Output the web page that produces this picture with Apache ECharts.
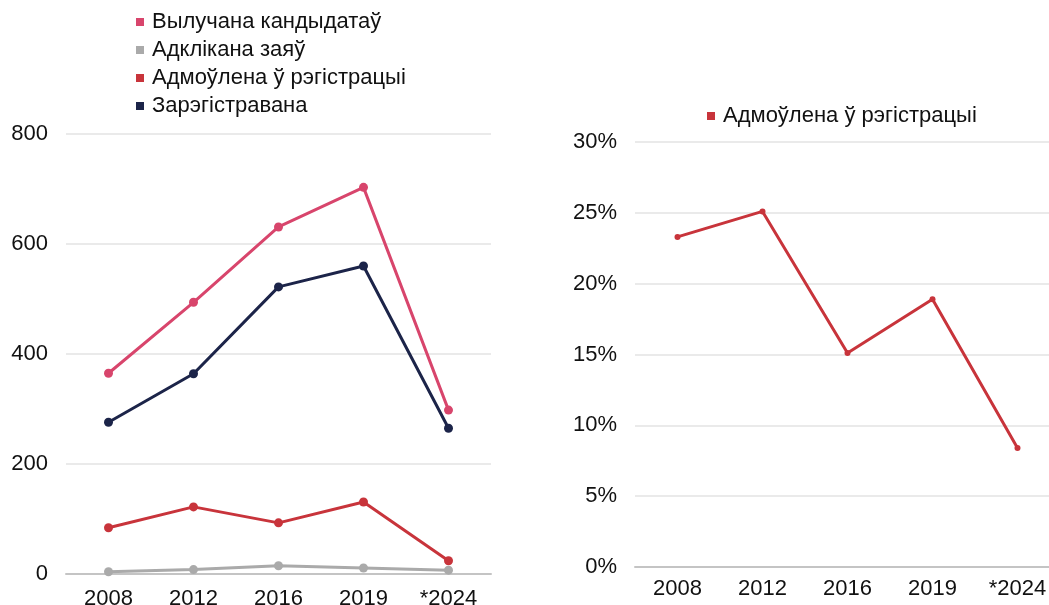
<!DOCTYPE html>
<html><head><meta charset="utf-8">
<script src="https://cdn.jsdelivr.net/npm/echarts@6/dist/echarts.min.js"></script>
<style>html,body{margin:0;padding:0;background:#fff}#c{width:1049px;height:605px}</style>
</head><body><div id="c"></div>
<script>
const categories = ['2008', '2012', '2016', '2019', '*2024'];
const nominated = [365, 494, 631, 703, 298];
const withdrawn = [4, 8, 15, 11, 7];
const refused = [84, 122, 93, 131, 24];
const registered = [276, 364, 522, 560, 265];
const refusedShare = [23.3, 25.1, 15.1, 18.9, 8.4];
const leftTicks = [0, 200, 400, 600, 800];
const rightTicks = [0, 5, 10, 15, 20, 25, 30];

const names = ['Вылучана кандыдатаў', 'Адклікана заяў', 'Адмоўлена ў рэгістрацыі', 'Зарэгістравана'];
const colors = ['#d8456c', '#aaaaaa', '#c8343b', '#1c2449'];
const font = '"Liberation Sans", Arial, sans-serif';
const FS = 22;

const chart = echarts.init(document.getElementById('c'));
function lineSeries(name, data, color, xi, yi) {
  return { name, type: 'line', data, xAxisIndex: xi, yAxisIndex: yi,
    symbol: 'circle', symbolSize: 9, itemStyle: { color },
    lineStyle: { color, width: 3 }, animation: false };
}
chart.setOption({
  backgroundColor: '#fff',
  textStyle: { fontFamily: font },
  legend: [
    { data: names, orient: 'vertical', left: 136, top: 11, itemGap: 6,
      icon: 'rect', itemWidth: 8, itemHeight: 8, padding: 0,
      textStyle: { fontSize: FS, color: '#111', fontFamily: font, padding: [0, 0, 0, 3] } },
    { data: [{ name: 'Адмоўлена ў рэгістрацыі ', icon: 'rect' }], left: 707, top: 105, padding: 0,
      itemWidth: 8, itemHeight: 8,
      textStyle: { fontSize: FS, color: '#111', fontFamily: font, padding: [0, 0, 0, 3] } }
  ],
  grid: [
    { left: 66, width: 425, top: 134, height: 440, outerBoundsMode: 'none' },
    { left: 635, width: 425, top: 142, height: 425, outerBoundsMode: 'none' }
  ],
  xAxis: [
    { type: 'category', gridIndex: 0, data: categories, boundaryGap: true,
      axisLine: { lineStyle: { color: '#c4c4c4', width: 2 } }, axisTick: { show: false },
      axisLabel: { fontSize: FS, color: '#111', margin: 14, fontFamily: font } },
    { type: 'category', gridIndex: 1, data: categories, boundaryGap: true,
      axisLine: { lineStyle: { color: '#c4c4c4', width: 2 } }, axisTick: { show: false },
      axisLabel: { fontSize: FS, color: '#111', margin: 11, fontFamily: font } }
  ],
  yAxis: [
    { type: 'value', gridIndex: 0, min: leftTicks[0], max: leftTicks[leftTicks.length - 1], interval: 200,
      axisLine: { show: false }, axisTick: { show: false },
      splitLine: { lineStyle: { color: '#e3e3e3', width: 1.5 } },
      axisLabel: { fontSize: FS, color: '#111', margin: 18, fontFamily: font } },
    { type: 'value', gridIndex: 1, min: rightTicks[0], max: rightTicks[rightTicks.length - 1], interval: 5,
      axisLine: { show: false }, axisTick: { show: false },
      splitLine: { lineStyle: { color: '#e3e3e3', width: 1.5 } },
      axisLabel: { fontSize: FS, color: '#111', margin: 18, fontFamily: font, formatter: '{value}%' } }
  ],
  series: [
    lineSeries(names[3], registered, colors[3], 0, 0),
    lineSeries(names[1], withdrawn, colors[1], 0, 0),
    lineSeries(names[2], refused, colors[2], 0, 0),
    lineSeries(names[0], nominated, colors[0], 0, 0),
    Object.assign(lineSeries('Адмоўлена ў рэгістрацыі ', refusedShare, '#c8343b', 1, 1), { symbolSize: 6 })
  ]
});
</script></body></html>
